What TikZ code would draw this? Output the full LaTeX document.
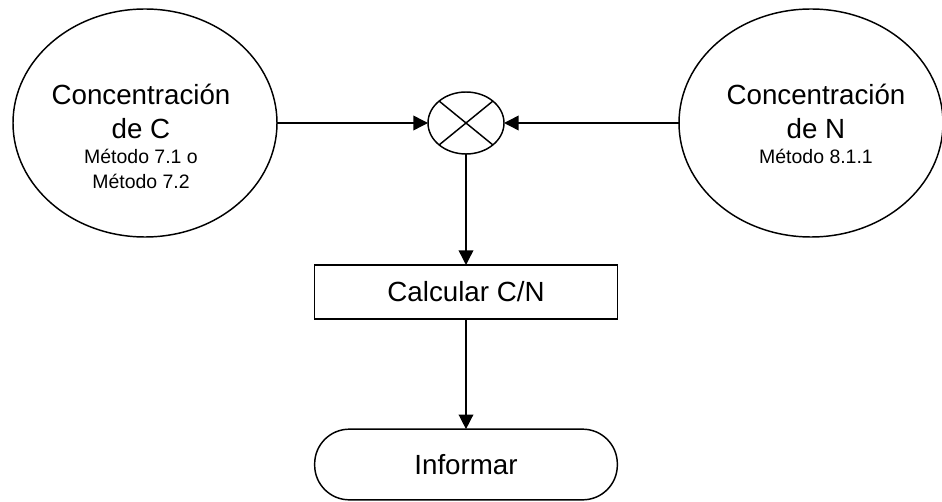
\documentclass[tikz,border=0pt]{standalone}
\usepackage{fontspec}
\setmainfont{Liberation Sans}
\usetikzlibrary{shapes.geometric, arrows.meta, positioning}
\newcommand{\bigtxt}{\fontsize{20.8}{25}\selectfont}
\newcommand{\smalltxt}{\fontsize{14.6}{18.2}\selectfont}

\begin{document}
\begin{tikzpicture}[x=0.75pt,y=-0.75pt,
		shape line/.style={draw, line width=1.1pt, inner sep=0pt, outer sep=0pt},
		conc/.style={shape line, ellipse, minimum width=198pt, minimum height=171pt},
		mix/.style={shape line, ellipse, minimum width=57pt, minimum height=46.5pt},
		calc/.style={shape line, rectangle, minimum width=227pt, minimum height=40.5pt, font=\bigtxt},
		term/.style={shape line, rectangle, rounded corners=26pt, minimum width=227pt, minimum height=53pt, font=\bigtxt},
		title/.style={align=center, inner sep=0pt, font=\bigtxt},
		method/.style={align=center, inner sep=0pt, font=\smalltxt},
		flow/.style={line width=1.1pt, -{Triangle[length=11pt,width=11pt]}}]
		\useasboundingbox (0,0) rectangle (942,502);

		%Shape: Ellipse
		\node[conc] (concC) at (145,123) {};
		%Shape: Ellipse
		\node[conc] (concN) at (811,123) {};
		%Shape: Ellipse with cross
		\node[mix] (mixer) at (466,123) {};
		\draw [line width=1.1pt] (mixer.north west) -- (mixer.south east) (mixer.north east) -- (mixer.south west);
		%Shape: Rectangle
		\node[calc] (ratio) at (466,292) {Calcular C/N};
		%Shape: Terminal
		\node[term] (report) at (466,464.5) {Informar};

		% Text Node
		\node[title, anchor=north] (titleC) at (141,84) {Concentración\\de C};
		\node[method, below=8pt of titleC] (methodC) {Método 7.1 o\\Método 7.2};
		% Text Node
		\node[title, anchor=north] (titleN) at (816,84) {Concentración\\de N};
		\node[method, below=8pt of titleN] (methodN) {Método 8.1.1};

		%Straight Lines
		\draw [flow] (concC.east) -- (mixer.west);
		\draw [flow] (concN.west) -- (mixer.east);
		\draw [flow] (mixer.south) -- (ratio.north);
		\draw [flow] (ratio.south) -- (report.north);

	\end{tikzpicture}
\end{document}
